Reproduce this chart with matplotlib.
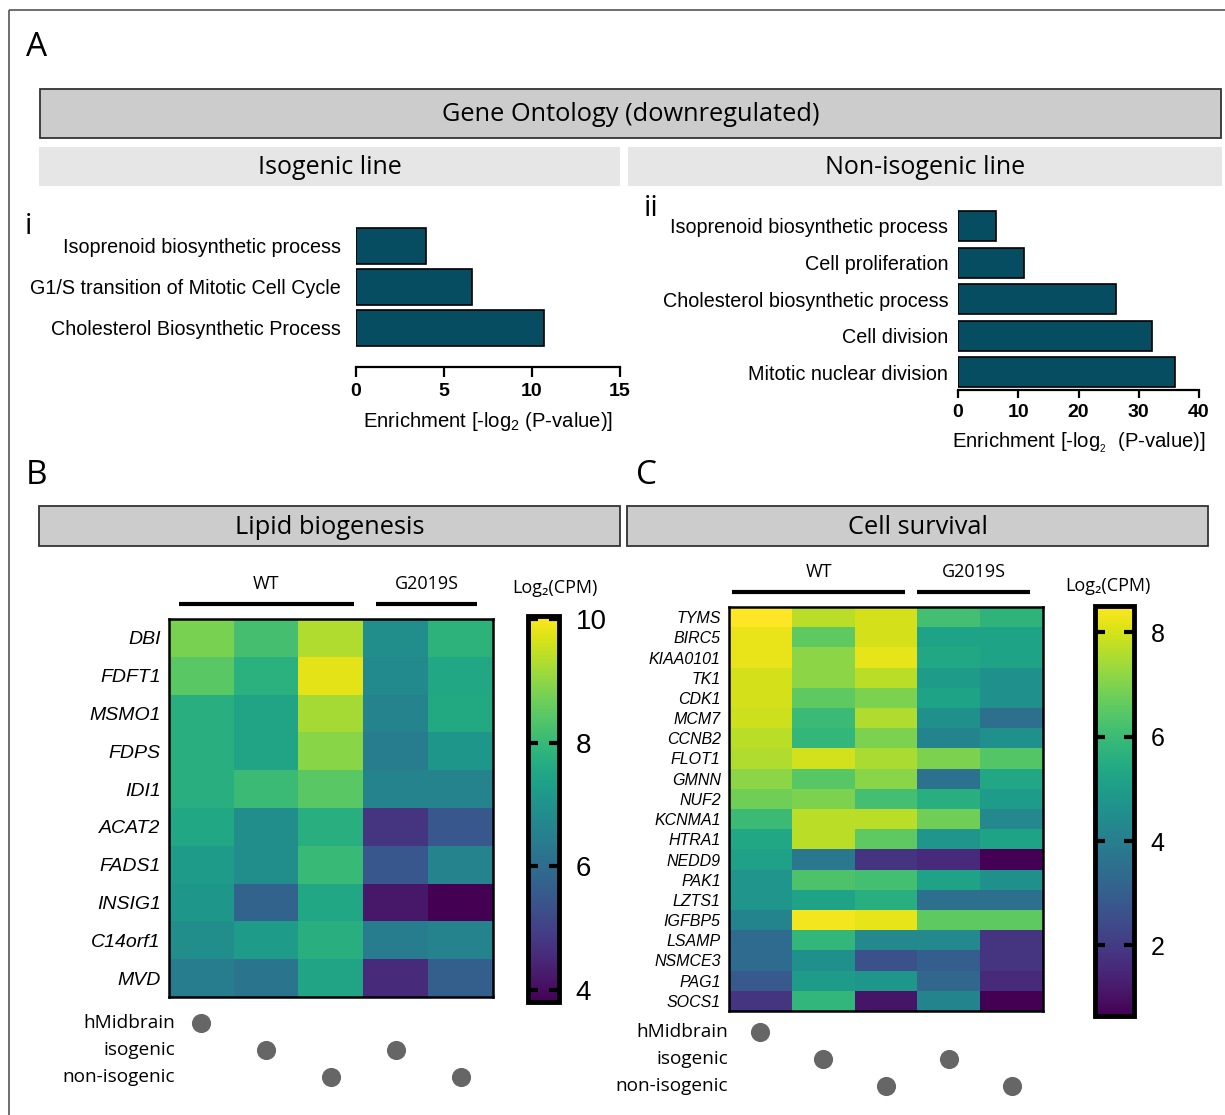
import numpy as np
import matplotlib.pyplot as plt
from matplotlib.patches import Rectangle
from matplotlib.transforms import blended_transform_factory

plt.rcParams['font.family'] = ['Liberation Sans', 'DejaVu Sans']
plt.rcParams['mathtext.fontset'] = 'custom'
plt.rcParams['mathtext.rm'] = 'Liberation Sans'
plt.rcParams['mathtext.it'] = 'Liberation Sans:italic'

W, H = 1225, 1115
HEAD = ['Open Sans', 'DejaVu Sans']
BAR = '#074d61'
DOT = '#666666'

# GO terms (downregulated), enrichment = -log2(P)
iso_terms = ['Isoprenoid biosynthetic process',
             'G1/S transition of Mitotic Cell Cycle',
             'Cholesterol Biosynthetic Process']
iso_enrich = [4.0, 6.6, 10.7]

noniso_terms = ['Isoprenoid biosynthetic process', 'Cell proliferation',
                'Cholesterol biosynthetic process', 'Cell division',
                'Mitotic nuclear division']
noniso_enrich = [6.3, 11.0, 26.3, 32.2, 36.0]

# sample layout (columns of both heatmaps)
samples = ['hMidbrain', 'isogenic', 'non-isogenic', 'isogenic', 'non-isogenic']
source_rows = ['hMidbrain', 'isogenic', 'non-isogenic']
groups = [('WT', 0, 2), ('G2019S', 3, 4)]

# B: lipid biogenesis, log2(CPM)
lipid_genes = ['DBI', 'FDFT1', 'MSMO1', 'FDPS', 'IDI1', 'ACAT2', 'FADS1',
               'INSIG1', 'C14orf1', 'MVD']
lipid_cpm = [
    [8.80, 8.20, 9.30, 6.90, 7.85],
    [8.45, 7.80, 9.80, 6.80, 7.55],
    [7.75, 7.45, 9.20, 6.60, 7.60],
    [7.75, 7.45, 8.95, 6.45, 7.10],
    [7.75, 8.05, 8.45, 6.60, 6.60],
    [7.55, 6.90, 7.75, 4.75, 5.50],
    [7.25, 6.90, 8.00, 5.50, 6.60],
    [7.10, 5.80, 7.55, 4.20, 3.80],
    [6.90, 7.25, 7.75, 6.45, 6.60],
    [6.45, 6.20, 7.45, 4.55, 5.70],
]

# C: cell survival, log2(CPM)
survival_genes = ['TYMS', 'BIRC5', 'KIAA0101', 'TK1', 'CDK1', 'MCM7', 'CCNB2',
                  'FLOT1', 'GMNN', 'NUF2', 'KCNMA1', 'HTRA1', 'NEDD9', 'PAK1',
                  'LZTS1', 'IGFBP5', 'LSAMP', 'NSMCE3', 'PAG1', 'SOCS1']
survival_cpm = [
    [8.50, 7.70, 8.00, 6.15, 5.75],
    [8.25, 6.55, 8.00, 5.20, 5.20],
    [8.25, 7.15, 8.20, 5.35, 5.20],
    [8.00, 7.15, 7.70, 5.00, 4.60],
    [8.00, 6.55, 6.95, 5.20, 4.60],
    [7.90, 6.00, 7.55, 4.60, 3.55],
    [7.70, 5.85, 6.95, 4.20, 4.60],
    [7.55, 7.95, 7.50, 6.95, 6.40],
    [7.15, 6.45, 7.10, 3.60, 5.35],
    [6.80, 6.95, 6.15, 5.60, 5.00],
    [6.00, 7.70, 7.70, 6.80, 4.35],
    [5.35, 7.70, 6.55, 4.75, 5.20],
    [5.15, 3.80, 1.85, 1.60, 0.65],
    [4.75, 6.30, 6.15, 5.20, 4.60],
    [4.75, 5.20, 5.60, 3.55, 3.55],
    [4.20, 8.35, 8.20, 6.55, 6.55],
    [3.40, 5.85, 4.35, 4.35, 1.85],
    [3.40, 4.60, 2.60, 3.00, 1.85],
    [2.85, 5.00, 4.80, 3.25, 1.60],
    [1.85, 5.85, 1.10, 4.20, 0.65],
]

fig = plt.figure(figsize=(W / 100, H / 100), dpi=100)


def px_axes(x0, y0, x1, y1):
    return fig.add_axes([x0 / W, 1 - y1 / H, (x1 - x0) / W, (y1 - y0) / H])


# overlay in pixel coordinates for frames, header boxes and panel letters
ov = px_axes(0, 0, W, H)
ov.set_xlim(0, W)
ov.set_ylim(H, 0)
ov.axis('off')
ov.add_patch(Rectangle((9, 10), 1240, 1130, fill=False, ec='#555555', lw=1.2))


def header(x0, y0, x1, y1, text, fc, ec, size):
    ov.add_patch(Rectangle((x0, y0), x1 - x0, y1 - y0, fc=fc,
                           ec=ec if ec else 'none', lw=1.3))
    ov.text((x0 + x1) / 2, (y0 + y1) / 2 + 1, text, ha='center', va='center',
            fontsize=size, family=HEAD)


header(40, 89, 1221, 138, 'Gene Ontology (downregulated)', '#cccccc', '#333333', 18.3)
header(39, 147, 620, 186, 'Isogenic line', '#e6e6e6', None, 18)
header(628, 147, 1222, 186, 'Non-isogenic line', '#e6e6e6', None, 18)
header(39, 506, 620, 546, 'Lipid biogenesis', '#cccccc', '#333333', 18.3)
header(627, 506, 1208, 546, 'Cell survival', '#cccccc', '#333333', 18.3)

for x, y, s in [(26, 47, 'A'), (26, 476, 'B'), (636, 476, 'C')]:
    ov.text(x, y, s, ha='left', va='center', fontsize=24, family=HEAD)
ov.text(25, 226, 'i', ha='left', va='center', fontsize=21, family=HEAD)
ov.text(644, 208, 'ii', ha='left', va='center', fontsize=21, family=HEAD)


def go_bars(box, terms, values, xmax, step, bottom, bar_h, tick_len, pad_y, xlabel, labelpad):
    ax = px_axes(*box)
    y = np.arange(len(terms))
    ax.barh(y, values, height=bar_h, color=BAR, edgecolor='black', linewidth=1.2)
    ax.set_xlim(0, xmax)
    ax.set_ylim(len(terms) - 1 + bottom, -0.6)
    ax.set_xticks(np.arange(0, xmax + 1, step))
    ax.set_yticks(y, terms)
    ax.tick_params(axis='y', length=0, pad=pad_y, labelsize=14.2)
    ax.tick_params(axis='x', length=tick_len, width=1.6, labelsize=14, pad=4)
    for lbl in ax.get_xticklabels():
        lbl.set_fontweight('bold')
    for side in ['left', 'top', 'right']:
        ax.spines[side].set_visible(False)
    ax.spines['bottom'].set_linewidth(1.6)
    ax.set_xlabel(xlabel, fontsize=14.6, labelpad=labelpad)
    ax.patch.set_alpha(0)
    return ax


go_bars((356, 221, 620, 367), iso_terms, iso_enrich, 15, 5, 0.95, 0.87, 7.5, 11,
        'Enrichment [-log$_2$ (P-value)]', 7)
go_bars((958, 204, 1199, 390), noniso_terms, noniso_enrich, 40, 10, 0.48, 0.82, 6, 7,
        'Enrichment [-log$_{_2}$  (P-value)]', 7)


def heat_panel(box, cbox, dbox, genes, cpm, vmin, vmax, cticks, gene_fs, ctick_fs,
               line_y, line_ext, cpm_xy, lab_x):
    ax = px_axes(*box)
    im = ax.imshow(np.array(cpm), cmap='viridis', vmin=vmin, vmax=vmax,
                   aspect='auto', interpolation='nearest')
    ax.set_xticks([])
    ax.set_yticks(range(len(genes)), genes)
    ax.tick_params(axis='y', length=0, pad=6, labelsize=gene_fs)
    for lbl in ax.get_yticklabels():
        lbl.set_fontstyle('italic')
    for sp in ax.spines.values():
        sp.set_linewidth(1.8)

    # genotype brackets above the columns
    tr = blended_transform_factory(ax.transData, ov.transData)
    for (name, c0, c1), (e0, e1) in zip(groups, line_ext):
        ax.plot([c0 - e0, c1 + e1], [line_y, line_y], color='black', lw=3,
                transform=tr, clip_on=False, solid_capstyle='butt')
        ax.text((c0 - e0 + c1 + e1) / 2, line_y - 11, name, transform=tr,
                ha='center', va='bottom', fontsize=13, family=HEAD)

    cax = px_axes(*cbox)
    cb = fig.colorbar(im, cax=cax)
    cb.set_ticks(cticks)
    cb.outline.set_linewidth(3.5)
    cax.tick_params(direction='in', left=True, right=True, length=7, width=3,
                    labelsize=ctick_fs, pad=12)
    ov.text(cpm_xy[0], cpm_xy[1], 'Log₂(CPM)', ha='center', va='center',
            fontsize=13, family=HEAD)

    # sample source dots
    dax = px_axes(*dbox)
    dax.set_xlim(-0.5, len(samples) - 0.5)
    dax.set_ylim(len(source_rows) - 0.5, -0.5)
    xs = np.arange(len(samples))
    ys = [source_rows.index(s) for s in samples]
    dax.scatter(xs, ys, s=190, color=DOT, linewidths=0)
    dax.axis('off')
    ltr = blended_transform_factory(ov.transData, dax.transData)
    for i, r in enumerate(source_rows):
        dax.text(lab_x, i, r, transform=ltr, ha='right', va='center',
                 fontsize=13.7, family=HEAD)
    return ax


heat_panel((169, 619, 493, 997), (528, 616, 559, 1002), (169, 1010, 493, 1090),
           lipid_genes, lipid_cpm, 3.8, 10.05, [4, 6, 8, 10], 14, 20,
           604, [(0.35, 0.35), (0.3, 0.25)], (555, 588), 175)
heat_panel((729, 607, 1043, 1011), (1095, 606, 1134, 1016), (729, 1019, 1043, 1099),
           survival_genes, survival_cpm, 0.65, 8.5, [2, 4, 6, 8], 11.5, 18,
           592, [(0.45, 0.3), (0.5, 0.3)], (1108, 586), 728)

fig.savefig('out.png', dpi=100)
